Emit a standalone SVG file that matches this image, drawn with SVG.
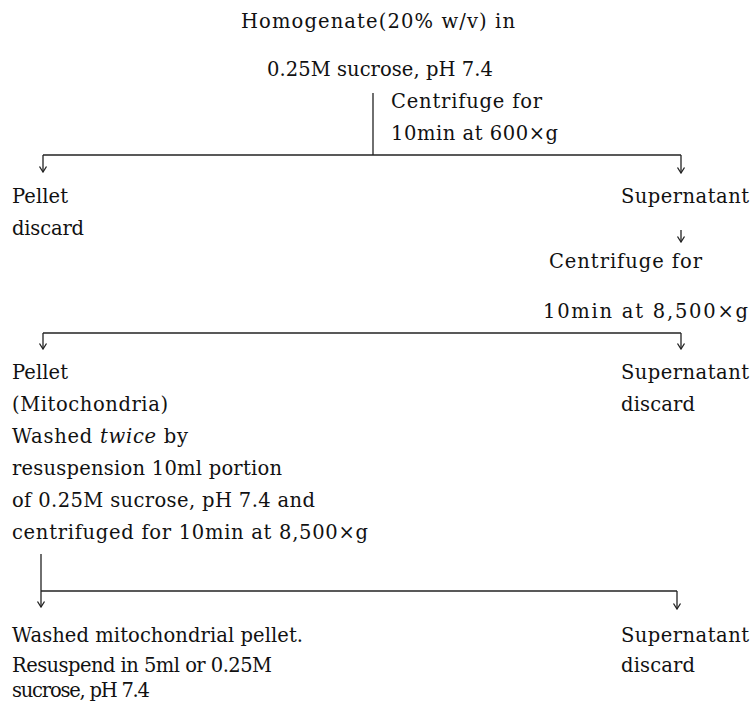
<svg xmlns="http://www.w3.org/2000/svg" width="751" height="702" viewBox="0 0 751 702">
<style>
text{font-family:"DejaVu Serif","Liberation Serif",serif;font-size:19.5px;fill:#111}
.c line,.c path{stroke:#222;stroke-width:1.3;fill:none}
</style>
<defs>
<marker id="ah" viewBox="0 0 10 10" refX="9.5" refY="5" markerWidth="10" markerHeight="10" markerUnits="userSpaceOnUse" orient="auto">
<path d="M4,1.5 L9.5,5 L4,8.5" fill="none" stroke="#222" stroke-width="1.3"/>
</marker>
</defs>
<rect width="751" height="702" fill="#fff"/>
<g id="homogenate">
<text x="241" y="28" textLength="274" lengthAdjust="spacing">Homogenate(20% w/v) in</text>
<text x="267" y="76" textLength="226" lengthAdjust="spacing">0.25M sucrose, pH 7.4</text>
</g>
<g id="step1">
<text x="391" y="108" textLength="151" lengthAdjust="spacing">Centrifuge for</text>
<text x="391" y="140" textLength="167" lengthAdjust="spacing">10min at 600×g</text>
</g>
<g id="pellet1">
<text x="12" y="203" textLength="56" lengthAdjust="spacing">Pellet</text>
<text x="12" y="235" textLength="72" lengthAdjust="spacing">discard</text>
</g>
<g id="supernatant1">
<text x="621" y="203" textLength="128" lengthAdjust="spacing">Supernatant</text>
</g>
<g id="step2">
<text x="549" y="268" textLength="153" lengthAdjust="spacing">Centrifuge for</text>
<text x="543" y="318" textLength="205" lengthAdjust="spacing">10min at 8,500×g</text>
</g>
<g id="pellet2">
<text x="12" y="379" textLength="56" lengthAdjust="spacing">Pellet</text>
<text x="12" y="411" textLength="156" lengthAdjust="spacing">(Mitochondria)</text>
<text x="12" y="443" textLength="176" lengthAdjust="spacing">Washed <tspan font-style="italic">twice</tspan> by</text>
<text x="12" y="475" textLength="270" lengthAdjust="spacing">resuspension 10ml portion</text>
<text x="12" y="507" textLength="303" lengthAdjust="spacing">of 0.25M sucrose, pH 7.4 and</text>
<text x="12" y="539" textLength="356" lengthAdjust="spacing">centrifuged for 10min at 8,500×g</text>
</g>
<g id="supernatant2">
<text x="621" y="379" textLength="128" lengthAdjust="spacing">Supernatant</text>
<text x="621" y="411" textLength="74" lengthAdjust="spacing">discard</text>
</g>
<g id="final-pellet">
<text x="12" y="642" textLength="291" lengthAdjust="spacing">Washed mitochondrial pellet.</text>
<text x="12" y="672" textLength="260" lengthAdjust="spacing">Resuspend in 5ml or 0.25M</text>
<text x="12" y="697" textLength="138" lengthAdjust="spacing">sucrose, pH 7.4</text>
</g>
<g id="supernatant3">
<text x="621" y="642" textLength="128" lengthAdjust="spacing">Supernatant</text>
<text x="621" y="672" textLength="74" lengthAdjust="spacing">discard</text>
</g>
<g id="connectors" class="c">
<line x1="373" y1="93" x2="373" y2="155"/>
<line x1="43" y1="155" x2="681" y2="155"/>
<line x1="43" y1="155" x2="43" y2="172" marker-end="url(#ah)"/>
<line x1="681" y1="155" x2="681" y2="173" marker-end="url(#ah)"/>
<line x1="681" y1="230" x2="681" y2="242" marker-end="url(#ah)"/>
<line x1="43" y1="333" x2="681" y2="333"/>
<line x1="43" y1="333" x2="43" y2="349" marker-end="url(#ah)"/>
<line x1="681" y1="333" x2="681" y2="349" marker-end="url(#ah)"/>
<line x1="41" y1="554" x2="41" y2="607" marker-end="url(#ah)"/>
<line x1="41" y1="591" x2="677" y2="591"/>
<line x1="677" y1="591" x2="677" y2="609" marker-end="url(#ah)"/>
</g>
</svg>
